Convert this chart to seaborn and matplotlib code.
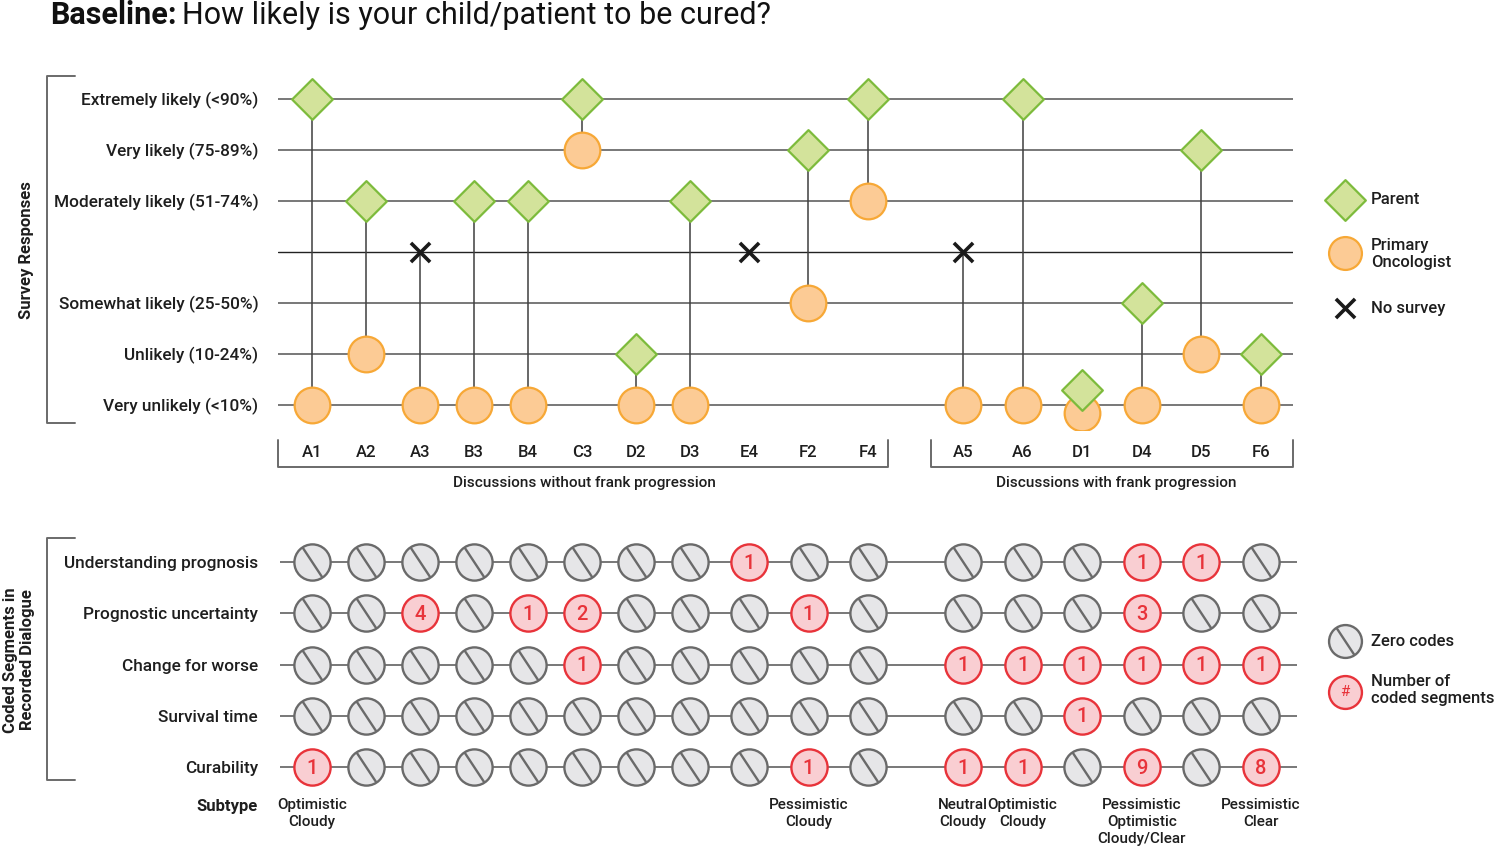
import matplotlib.pyplot as plt
import numpy as np
import pandas as pd
import seaborn as sns
from matplotlib.path import Path

# ---- data ----
cases = ["A1", "A2", "A3", "B3", "B4", "C3", "D2", "D3", "E4", "F2", "F4",
         "A5", "A6", "D1", "D4", "D5", "F6"]
n_without = 11  # first 11 cases: discussions without frank progression

level_keys = ["Extremely likely", "Very likely", "Moderately likely", "No survey",
              "Somewhat likely", "Unlikely", "Very unlikely"]
level_labels = ["Extremely likely (<90%)", "Very likely (75-89%)", "Moderately likely (51-74%)", "",
                "Somewhat likely (25-50%)", "Unlikely (10-24%)", "Very unlikely (<10%)"]

parent = ["Extremely likely", "Moderately likely", "No survey", "Moderately likely", "Moderately likely",
          "Extremely likely", "Unlikely", "Moderately likely", "No survey", "Very likely", "Extremely likely",
          "No survey", "Extremely likely", "Very unlikely", "Somewhat likely", "Very likely", "Unlikely"]
oncologist = ["Very unlikely", "Unlikely", "Very unlikely", "Very unlikely", "Very unlikely",
              "Very likely", "Very unlikely", "Very unlikely", None, "Somewhat likely", "Moderately likely",
              "Very unlikely", "Very unlikely", "Very unlikely", "Very unlikely", "Unlikely", "Very unlikely"]

code_rows = ["Understanding prognosis", "Prognostic uncertainty", "Change for worse", "Survival time", "Curability"]
understanding = [0, 0, 0, 0, 0, 0, 0, 0, 1, 0, 0, 0, 0, 0, 1, 1, 0]
uncertainty = [0, 0, 4, 0, 1, 2, 0, 0, 0, 1, 0, 0, 0, 0, 3, 0, 0]
worse = [0, 0, 0, 0, 0, 1, 0, 0, 0, 0, 0, 1, 1, 1, 1, 1, 1]
survival = [0, 0, 0, 0, 0, 0, 0, 0, 0, 0, 0, 0, 0, 1, 0, 0, 0]
curability = [1, 0, 0, 0, 0, 0, 0, 0, 0, 1, 0, 1, 1, 0, 9, 0, 8]

subtypes = ["Optimistic\nCloudy", "", "", "", "", "", "", "", "", "Pessimistic\nCloudy", "",
            "Neutral\nCloudy", "Optimistic\nCloudy", "", "Pessimistic\nOptimistic\nCloudy/Clear", "",
            "Pessimistic\nClear"]

# ---- style ----
sns.set_theme(style="white")
plt.rcParams["font.family"] = ["Roboto", "DejaVu Sans"]

GREEN_F, GREEN_E = "#d3e39b", "#7dbb3c"
ORANGE_F, ORANGE_E = "#fccb95", "#f7a836"
GREY_F, GREY_E = "#e6e6e8", "#6a6a6a"
RED_F, RED_E = "#f9ced2", "#e8333a"
LINE = "#6d6d6d"
TXT = "#1e1e1e"
WT = "medium"

W, H = 1500, 848
fig = plt.figure(figsize=(15, 8.48), dpi=100)


def box(l, t, r, b):
    return [l / W, 1 - b / H, (r - l) / W, (b - t) / H]


# layout: slot position of each case (in px units), wider steps after D3 and a gap between groups
x0 = 312
slot = []
for i in range(len(cases)):
    if i < 8:
        slot.append(x0 + 54 * i)
    elif i < n_without:
        slot.append(749 + 59.5 * (i - 8))
    else:
        slot.append(963 + 59.6 * (i - n_without))
xpos = np.array(slot, dtype=float)

# overlay for brackets / titles / legends (pixel coordinates)
ov = fig.add_axes([0, 0, 1, 1])
ov.set_xlim(0, W)
ov.set_ylim(H, 0)
ov.axis("off")

# ================= top panel: survey responses =================
ax = fig.add_axes(box(278, 76, 1293, 430))
ax.set_facecolor("none")
ax.set_xlim(278, 1293)
ax.set_ylim((430 - 99) / 51, (76 - 99) / 51)
for k in range(len(level_keys)):
    if level_keys[k] == "No survey":
        ax.axhline(k, color="#222222", lw=1.0, zorder=0)
    else:
        ax.axhline(k, color=LINE, lw=1.3, zorder=0)

py = np.array([level_keys.index(p) for p in parent], dtype=float)
oy = np.array([level_keys.index(o) if o else np.nan for o in oncologist], dtype=float)
same = py == oy
py[same] -= 0.3
oy[same] += 0.16

top = pd.DataFrame({"x": xpos, "parent": py, "onc": oy,
                    "nosurvey": [p == "No survey" for p in parent]})
for _, r in top.iterrows():
    if not np.isnan(r["onc"]):
        ax.plot([r["x"], r["x"]], [r["parent"], r["onc"]], color="#3f3f3f", lw=1.1, zorder=1)

sns.scatterplot(data=top[~top.nosurvey], x="x", y="parent", marker="D", s=430, color=GREEN_F,
                edgecolor=GREEN_E, linewidth=1.6, ax=ax, zorder=4)
sns.scatterplot(data=top.dropna(subset=["onc"]), x="x", y="onc", marker="o", s=660, color=ORANGE_F,
                edgecolor=ORANGE_E, linewidth=1.6, ax=ax, zorder=3)
sns.scatterplot(data=top[top.nosurvey], x="x", y="parent", marker="x", s=190, color="#1a1a1a",
                linewidth=2.6, ax=ax, zorder=4)

ax.set_yticks(range(len(level_labels)))
ax.set_yticklabels(level_labels, fontsize=12.4, color=TXT, weight=WT)
ax.set_xticks(xpos)
ax.set_xticklabels(cases, fontsize=12, color=TXT, weight=WT)
ax.tick_params(axis="y", length=0, pad=14)
ax.tick_params(axis="x", length=0, pad=11)
ax.set_xlabel("")
ax.set_ylabel("")
for s in ax.spines.values():
    s.set_visible(False)

# ================= bottom panel: coded segments =================
ax2 = fig.add_axes(box(280, 535, 1297, 790))
ax2.set_facecolor("none")
ax2.set_xlim(280, 1297)
ax2.set_ylim((790 - 562) / 51.25, (535 - 562) / 51.25)
for r in range(len(code_rows)):
    ax2.axhline(r, color=LINE, lw=1.3, zorder=0)

counts = [understanding, uncertainty, worse, survival, curability]
grid = pd.DataFrame([{"x": xpos[j], "row": i, "n": counts[i][j]}
                     for i in range(len(code_rows)) for j in range(len(cases))])
zero = grid[grid.n == 0]
coded = grid[grid.n > 0]

slash = Path([(-0.66, 1.0), (0.66, -1.0)], [Path.MOVETO, Path.LINETO])
sns.scatterplot(data=zero, x="x", y="row", marker="o", s=680, color=GREY_F, edgecolor=GREY_E,
                linewidth=1.7, ax=ax2, zorder=3)
sns.scatterplot(data=zero, x="x", y="row", marker=slash, s=680 / 1.44, color=GREY_E, edgecolor=GREY_E,
                linewidth=1.7, ax=ax2, zorder=4)
sns.scatterplot(data=coded, x="x", y="row", marker="o", s=680, color=RED_F, edgecolor=RED_E,
                linewidth=1.7, ax=ax2, zorder=3)
for _, r in coded.iterrows():
    ax2.text(r["x"], r["row"] + 0.02, str(int(r["n"])), ha="center", va="center", fontsize=14.5,
             color=RED_E, weight="medium", zorder=5)

for j, lab in enumerate(subtypes):
    if lab:
        ax2.text(xpos[j], 4.6, lab, ha="center", va="top", fontsize=11, color=TXT, weight=WT,
                 linespacing=1.3, clip_on=False)

ax2.set_yticks(range(len(code_rows)))
ax2.set_yticklabels(code_rows, fontsize=12.4, color=TXT, weight=WT)
ax2.set_xticks([])
ax2.tick_params(axis="y", length=0, pad=16)
ax2.set_xlabel("")
ax2.set_ylabel("")
for s in ax2.spines.values():
    s.set_visible(False)

# ================= decorations =================
br = dict(color="#6a6a6a", lw=1.4)
ov.plot([75, 47, 47, 75], [76, 76, 423, 423], **br)
ov.plot([75, 47, 47, 75], [538, 538, 780, 780], **br)
ov.plot([278, 278, 888, 888], [440, 467, 467, 440], **br)
ov.plot([931, 931, 1293, 1293], [440, 467, 467, 440], **br)

ov.text(27, 250, "Survey Responses", rotation=90, ha="center", va="center", fontsize=12,
        weight="bold", color=TXT)
ov.text(19, 660, "Coded Segments in\nRecorded Dialogue", rotation=90, ha="center", va="center",
        fontsize=12, weight="bold", color=TXT, linespacing=1.1)
ov.text(584, 483, "Discussions without frank progression", ha="center", va="center", fontsize=11,
        color=TXT, weight=WT)
ov.text(1116, 483, "Discussions with frank progression", ha="center", va="center", fontsize=11,
        color=TXT, weight=WT)
ov.text(258, 806, "Subtype", ha="right", va="center", fontsize=12, weight="bold", color=TXT)

# title: bold lead-in followed by regular text
t1 = ov.text(50, 15, "Baseline:", ha="left", va="center", fontsize=22, weight="bold", color="#111111")
fig.canvas.draw()
bb = t1.get_window_extent(renderer=fig.canvas.get_renderer())
ov.text(50 + bb.width + 6, 15, "How likely is your child/patient to be cured?", ha="left", va="center",
        fontsize=22, color="#111111")

# legends
ov.scatter([1345], [200], marker="D", s=430, color=GREEN_F, edgecolor=GREEN_E, linewidth=1.6)
ov.scatter([1345], [253], marker="o", s=560, color=ORANGE_F, edgecolor=ORANGE_E, linewidth=1.6)
ov.scatter([1345], [308], marker="x", s=190, color="#1a1a1a", linewidth=2.6)
ov.text(1371, 200, "Parent", va="center", fontsize=12, color=TXT, weight=WT)
ov.text(1371, 254, "Primary\nOncologist", va="center", fontsize=12, color=TXT, weight=WT, linespacing=1.2)
ov.text(1371, 308, "No survey", va="center", fontsize=12, color=TXT, weight=WT)

ov.scatter([1345], [641], marker="o", s=560, color=GREY_F, edgecolor=GREY_E, linewidth=1.7)
ov.scatter([1345], [641], marker=slash, s=560 / 1.44, color=GREY_E, edgecolor=GREY_E, linewidth=1.7)
ov.scatter([1345], [692], marker="o", s=560, color=RED_F, edgecolor=RED_E, linewidth=1.7)
ov.text(1345, 692, "#", ha="center", va="center", fontsize=11, color=RED_E)
ov.text(1371, 641, "Zero codes", va="center", fontsize=12, color=TXT, weight=WT)
ov.text(1371, 690, "Number of\ncoded segments", va="center", fontsize=12, color=TXT, weight=WT,
        linespacing=1.2)

fig.savefig("out.png", dpi=100)
